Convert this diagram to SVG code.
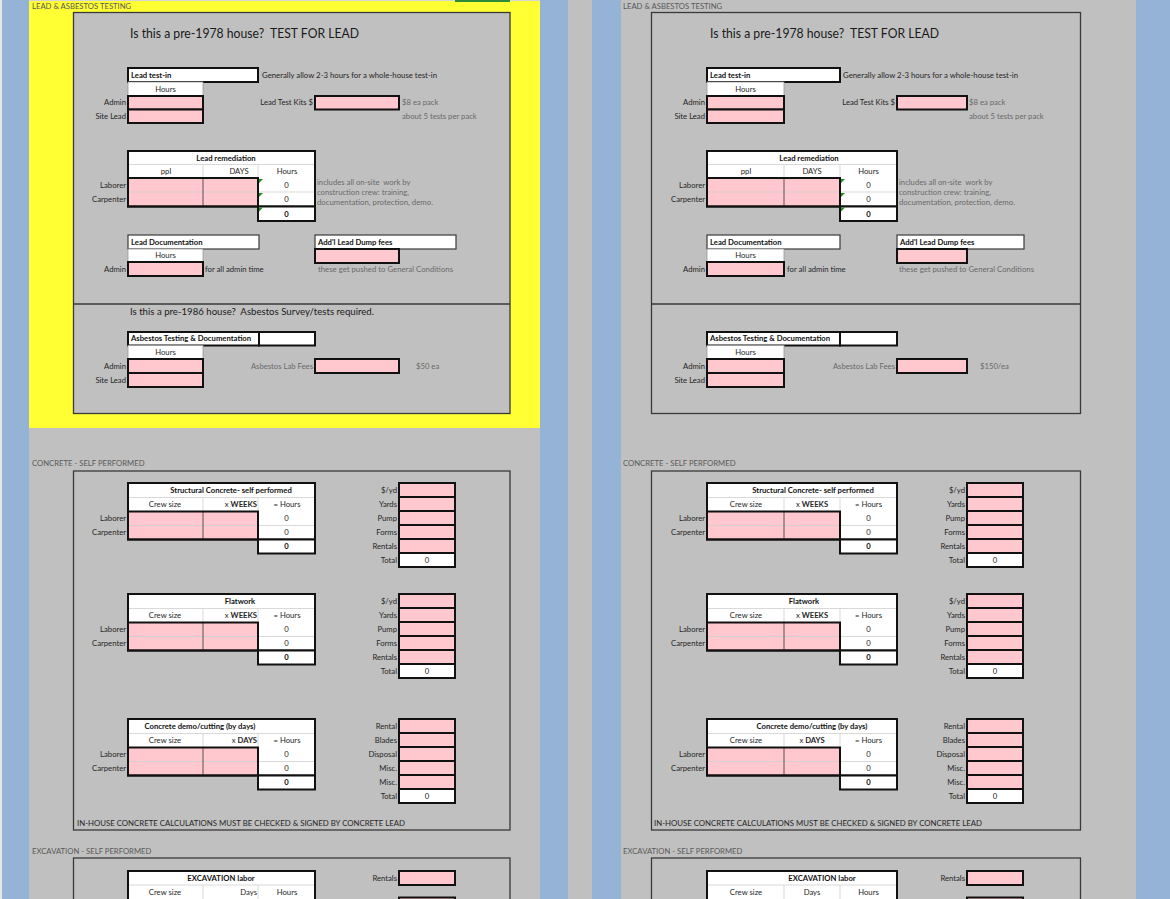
<svg xmlns="http://www.w3.org/2000/svg" width="1170" height="899" viewBox="0 0 1170 899">
<style>
.t{font-family:Lato,"Liberation Sans","DejaVu Sans",sans-serif;font-size:7.7px;fill:#262626}
.pre{white-space:pre}
.b{font-weight:bold;fill:#111}
.g{fill:#6a6a6a}
.e{text-anchor:end}
.m{text-anchor:middle}
.h{fill:#595959}
.ttl{font-size:12.5px;fill:#1a1a1a}
.sub{font-size:9.5px;fill:#1a1a1a}
.box{fill:#c0c0c0;stroke:#3a3a3a;stroke-width:1.3}
.w{fill:#fff}
.pk{fill:#ffc7ce}
.k{fill:none;stroke:#111;stroke-width:2}
.kp{fill:#ffc7ce;stroke:#111;stroke-width:2}
.kw{fill:#fff;stroke:#111;stroke-width:2}
.ln{stroke:#cfcfcf;stroke-width:0.8}
.dv{stroke:#333;stroke-width:0.8}
.cw{fill:#fff;stroke:#9a9a9a;stroke-width:0.8}
.md{fill:#fff;stroke:#3a3a3a;stroke-width:1.2}
.tri{fill:#1f8a1f}
</style>
<g id="background">
<rect x="0" y="0" width="1170" height="899" fill="#c0c0c0"/>
<rect x="0" y="0" width="2" height="899" fill="#e6e6e6"/>
<rect x="2" y="0" width="27" height="899" fill="#95b3d7"/>
<rect x="29" y="1" width="511" height="427" fill="#ffff33"/>
<rect x="29" y="0" width="511" height="1" fill="#d6d6d6"/>
<rect x="455" y="0" width="55" height="2" fill="#2e8b3a"/>
<rect x="540" y="0" width="28" height="899" fill="#95b3d7"/>
<rect x="592" y="0" width="29" height="899" fill="#95b3d7"/>
<rect x="1136" y="0" width="34" height="899" fill="#95b3d7"/>
</g>

<!-- ================= LEFT PANEL ================= -->
<g id="L-lead-section">
<text class="t h" x="32" y="8.7">LEAD &amp; ASBESTOS TESTING</text>
<rect class="box" x="73.5" y="12.5" width="436.5" height="401"/>
<line x1="73.5" y1="304" x2="510" y2="304" stroke="#3a3a3a" stroke-width="1.3"/>
<text class="t ttl pre" xml:space="preserve" x="130" y="37.5" textLength="229" lengthAdjust="spacingAndGlyphs">Is this a pre-1978 house?  TEST FOR LEAD</text>
</g>
<g id="L-lead-test-in">
<rect class="kw" x="128" y="68" width="130" height="14"/>
<text class="t b" x="131" y="77.7">Lead test-in</text>
<text class="t" x="262" y="77.7" textLength="175" lengthAdjust="spacingAndGlyphs">Generally allow 2-3 hours for a whole-house test-in</text>
<rect class="cw" x="128" y="82" width="75" height="14"/>
<text class="t m" x="165.5" y="91.7">Hours</text>
<rect class="kp" x="128" y="96" width="75" height="13.5"/>
<rect class="kp" x="128" y="109.5" width="75" height="13.5"/>
<text class="t e" x="126" y="105.4">Admin</text>
<text class="t e" x="126" y="119">Site Lead</text>
</g>
<g id="L-lead-kits">
<text class="t e" x="313" y="105.4">Lead Test Kits $</text>
<rect class="kp" x="315" y="96" width="84" height="13.5"/>
<text class="t g" x="402" y="105.4">$8 ea pack</text>
<text class="t g" x="402" y="119.2">about 5 tests per pack</text>
</g>
<g id="L-lead-remediation">
<rect class="w" x="128" y="151" width="187" height="55.5"/>
<rect class="pk" x="128" y="178" width="130" height="28.5"/>
<line class="ln" x1="128" y1="164.5" x2="315" y2="164.5"/>
<line class="ln" x1="203" y1="164.5" x2="203" y2="178"/>
<line class="ln" x1="258" y1="164.5" x2="258" y2="178"/>
<line class="ln" x1="128" y1="192" x2="315" y2="192"/>
<line class="dv" x1="203" y1="178" x2="203" y2="206.5"/>
<rect class="k" x="128" y="178" width="130" height="28.5"/>
<rect class="k" x="128" y="151" width="187" height="55.5"/>
<rect class="kw" x="258" y="206.5" width="57" height="14.5"/>
<polygon class="tri" points="259,179 263,179 259,183"/>
<polygon class="tri" points="259,193 263,193 259,197"/>
<polygon class="tri" points="259,207.5 263,207.5 259,211.5"/>
<text class="t b m" x="226" y="160.7">Lead remediation</text>
<text class="t m" x="166" y="174">ppl</text>
<text class="t m" x="239" y="174">DAYS</text>
<text class="t m" x="287" y="174">Hours</text>
<text class="t e" x="126" y="188">Laborer</text>
<text class="t e" x="126" y="202">Carpenter</text>
<text class="t m" x="286.5" y="188">0</text>
<text class="t m" x="286.5" y="202">0</text>
<text class="t b m" x="286.5" y="216.5">0</text>
<text class="t g pre" xml:space="preserve" x="317" y="185.4">includes all on-site  work by</text>
<text class="t g" x="317" y="195.4">construction crew: training,</text>
<text class="t g" x="317" y="205.4" textLength="116" lengthAdjust="spacingAndGlyphs">documentation, protection, demo.</text>
</g>
<g id="L-lead-documentation">
<rect class="md" x="128" y="235" width="131" height="14"/>
<text class="t b" x="131" y="244.7">Lead Documentation</text>
<rect class="cw" x="128" y="249" width="75" height="13"/>
<text class="t m" x="165.5" y="258.4">Hours</text>
<rect class="kp" x="128" y="262" width="75" height="14"/>
<text class="t e" x="126" y="271.7">Admin</text>
<text class="t" x="205" y="272">for all admin time</text>
</g>
<g id="L-dump-fees">
<rect class="md" x="315" y="235" width="141" height="14"/>
<text class="t b" x="318" y="244.7">Add'l Lead Dump fees</text>
<rect class="kp" x="315" y="249" width="84" height="14"/>
<text class="t g" x="318" y="272" textLength="135" lengthAdjust="spacingAndGlyphs">these get pushed to General Conditions</text>
</g>
<g id="L-asbestos">
<text class="t sub pre" xml:space="preserve" x="130" y="315.3" textLength="244" lengthAdjust="spacingAndGlyphs">Is this a pre-1986 house?  Asbestos Survey/tests required.</text>
<rect class="kw" x="128" y="332" width="131" height="13.5"/>
<rect class="kw" x="259" y="332" width="56" height="13.5"/>
<text class="t b" x="131" y="341.4">Asbestos Testing &amp; Documentation</text>
<rect class="cw" x="128" y="345.5" width="75" height="13.5"/>
<text class="t m" x="165.5" y="354.9">Hours</text>
<rect class="kp" x="128" y="359" width="75" height="14"/>
<rect class="kp" x="128" y="373" width="75" height="14"/>
<text class="t e" x="126" y="368.7">Admin</text>
<text class="t e" x="126" y="382.7">Site Lead</text>
<text class="t g e" x="313" y="368.7">Asbestos Lab Fees</text>
<rect class="kp" x="315" y="359" width="84" height="14"/>
<text class="t g" x="416" y="368.7">$50 ea</text>
</g>

<g id="L-concrete-section">
<text class="t h" x="32" y="466">CONCRETE - SELF PERFORMED</text>
<rect class="box" x="73.5" y="471" width="436.5" height="359"/>
<text class="t" x="77" y="825.6" fill="#1f1f2f" textLength="328" lengthAdjust="spacingAndGlyphs">IN-HOUSE CONCRETE CALCULATIONS MUST BE CHECKED &amp; SIGNED BY CONCRETE LEAD</text>
</g>
<g id="L-structural">
<rect class="w" x="128" y="483" width="187" height="56.5"/>
<rect class="pk" x="128" y="511.5" width="130" height="28"/>
<line class="ln" x1="128" y1="497.5" x2="315" y2="497.5"/>
<line class="ln" x1="203" y1="497.5" x2="203" y2="511.5"/>
<line class="ln" x1="258" y1="497.5" x2="258" y2="511.5"/>
<line class="ln" x1="128" y1="525.5" x2="315" y2="525.5"/>
<line class="dv" x1="203" y1="511.5" x2="203" y2="539.5"/>
<rect class="k" x="128" y="511.5" width="130" height="28"/>
<rect class="k" x="128" y="483" width="187" height="56.5"/>
<rect class="kw" x="258" y="539.5" width="57" height="14"/>
<text class="t b m" x="231" y="493">Structural Concrete- self performed</text>
<text class="t m" x="165" y="507.2">Crew size</text>
<text class="t e" x="257" y="507.2">x <tspan font-weight="bold">WEEKS</tspan></text>
<text class="t m" x="287" y="507.2">= Hours</text>
<text class="t e" x="126" y="521.2">Laborer</text>
<text class="t e" x="126" y="535.2">Carpenter</text>
<text class="t m" x="286.5" y="521.2">0</text>
<text class="t m" x="286.5" y="535.2">0</text>
<text class="t b m" x="286.5" y="549.2">0</text>
</g>
<g id="L-structural-costs">
<rect class="kp" x="399" y="483" width="56" height="14"/>
<rect class="kp" x="399" y="497" width="56" height="14"/>
<rect class="kp" x="399" y="511" width="56" height="14"/>
<rect class="kp" x="399" y="525" width="56" height="14"/>
<rect class="kp" x="399" y="539" width="56" height="14"/>
<rect class="kw" x="399" y="553" width="56" height="14"/>
<text class="t e" x="397" y="492.7">$/yd</text>
<text class="t e" x="397" y="506.7">Yards</text>
<text class="t e" x="397" y="520.7">Pump</text>
<text class="t e" x="397" y="534.7">Forms</text>
<text class="t e" x="397" y="548.7">Rentals</text>
<text class="t e" x="397" y="562.7">Total</text>
<text class="t m" x="427" y="562.7">0</text>
</g>
<g id="L-flatwork">
<rect class="w" x="128" y="594" width="187" height="56.5"/>
<rect class="pk" x="128" y="622.5" width="130" height="28"/>
<line class="ln" x1="128" y1="608.5" x2="315" y2="608.5"/>
<line class="ln" x1="203" y1="608.5" x2="203" y2="622.5"/>
<line class="ln" x1="258" y1="608.5" x2="258" y2="622.5"/>
<line class="ln" x1="128" y1="636.5" x2="315" y2="636.5"/>
<line class="dv" x1="203" y1="622.5" x2="203" y2="650.5"/>
<rect class="k" x="128" y="622.5" width="130" height="28"/>
<rect class="k" x="128" y="594" width="187" height="56.5"/>
<rect class="kw" x="258" y="650.5" width="57" height="14"/>
<text class="t b m" x="240" y="604">Flatwork</text>
<text class="t m" x="165" y="618.2">Crew size</text>
<text class="t e" x="257" y="618.2">x <tspan font-weight="bold">WEEKS</tspan></text>
<text class="t m" x="287" y="618.2">= Hours</text>
<text class="t e" x="126" y="632.2">Laborer</text>
<text class="t e" x="126" y="646.2">Carpenter</text>
<text class="t m" x="286.5" y="632.2">0</text>
<text class="t m" x="286.5" y="646.2">0</text>
<text class="t b m" x="286.5" y="660.2">0</text>
</g>
<g id="L-flatwork-costs">
<rect class="kp" x="399" y="594" width="56" height="14"/>
<rect class="kp" x="399" y="608" width="56" height="14"/>
<rect class="kp" x="399" y="622" width="56" height="14"/>
<rect class="kp" x="399" y="636" width="56" height="14"/>
<rect class="kp" x="399" y="650" width="56" height="14"/>
<rect class="kw" x="399" y="664" width="56" height="14"/>
<text class="t e" x="397" y="603.7">$/yd</text>
<text class="t e" x="397" y="617.7">Yards</text>
<text class="t e" x="397" y="631.7">Pump</text>
<text class="t e" x="397" y="645.7">Forms</text>
<text class="t e" x="397" y="659.7">Rentals</text>
<text class="t e" x="397" y="673.7">Total</text>
<text class="t m" x="427" y="673.7">0</text>
</g>
<g id="L-demo">
<rect class="w" x="128" y="719" width="187" height="56.5"/>
<rect class="pk" x="128" y="747.5" width="130" height="28"/>
<line class="ln" x1="128" y1="733.5" x2="315" y2="733.5"/>
<line class="ln" x1="203" y1="733.5" x2="203" y2="747.5"/>
<line class="ln" x1="258" y1="733.5" x2="258" y2="747.5"/>
<line class="ln" x1="128" y1="761.5" x2="315" y2="761.5"/>
<line class="dv" x1="203" y1="747.5" x2="203" y2="775.5"/>
<rect class="k" x="128" y="747.5" width="130" height="28"/>
<rect class="k" x="128" y="719" width="187" height="56.5"/>
<rect class="kw" x="258" y="775.5" width="57" height="14"/>
<text class="t b m" x="200" y="729">Concrete demo/cutting (by days)</text>
<text class="t m" x="165" y="743.2">Crew size</text>
<text class="t e" x="257" y="743.2">x <tspan font-weight="bold">DAYS</tspan></text>
<text class="t m" x="287" y="743.2">= Hours</text>
<text class="t e" x="126" y="757.2">Laborer</text>
<text class="t e" x="126" y="771.2">Carpenter</text>
<text class="t m" x="286.5" y="757.2">0</text>
<text class="t m" x="286.5" y="771.2">0</text>
<text class="t b m" x="286.5" y="785.2">0</text>
</g>
<g id="L-demo-costs">
<rect class="kp" x="399" y="719" width="56" height="14"/>
<rect class="kp" x="399" y="733" width="56" height="14"/>
<rect class="kp" x="399" y="747" width="56" height="14"/>
<rect class="kp" x="399" y="761" width="56" height="14"/>
<rect class="kp" x="399" y="775" width="56" height="14"/>
<rect class="kw" x="399" y="789" width="56" height="14"/>
<text class="t e" x="397" y="728.7">Rental</text>
<text class="t e" x="397" y="742.7">Blades</text>
<text class="t e" x="397" y="756.7">Disposal</text>
<text class="t e" x="397" y="770.7">Misc.</text>
<text class="t e" x="397" y="784.7">Misc.</text>
<text class="t e" x="397" y="798.7">Total</text>
<text class="t m" x="427" y="798.7">0</text>
</g>
<g id="L-excavation-section">
<text class="t h" x="32" y="853.7">EXCAVATION - SELF PERFORMED</text>
<rect class="box" x="73.5" y="858" width="436.5" height="60"/>
</g>
<g id="L-excavation">
<rect class="w" x="128" y="871" width="187" height="40"/>
<line class="ln" x1="128" y1="885" x2="315" y2="885"/>
<line class="ln" x1="203" y1="885" x2="203" y2="899"/>
<line class="ln" x1="258" y1="885" x2="258" y2="899"/>
<rect class="k" x="128" y="871" width="187" height="40"/>
<text class="t b m" x="221" y="880.7">EXCAVATION labor</text>
<text class="t m" x="165" y="895">Crew size</text>
<text class="t e" x="257" y="895">Days</text>
<text class="t m" x="287" y="895">Hours</text>
<rect class="kp" x="399" y="871" width="56" height="14"/>
<text class="t e" x="397" y="880.7">Rentals</text>
<rect class="kp" x="399" y="897.5" width="56" height="14"/>
</g>

<!-- ================= RIGHT PANEL ================= -->
<g id="R-lead-section">
<text class="t h" x="623" y="8.7">LEAD &amp; ASBESTOS TESTING</text>
<rect class="box" x="651.5" y="12.5" width="429" height="401"/>
<line x1="651.5" y1="304" x2="1080.5" y2="304" stroke="#3a3a3a" stroke-width="1.3"/>
<text class="t ttl pre" xml:space="preserve" x="710" y="37.5" textLength="229" lengthAdjust="spacingAndGlyphs">Is this a pre-1978 house?  TEST FOR LEAD</text>
</g>
<g id="R-lead-test-in">
<rect class="kw" x="707" y="68" width="133" height="14"/>
<text class="t b" x="710" y="77.7">Lead test-in</text>
<text class="t" x="843" y="77.7" textLength="175" lengthAdjust="spacingAndGlyphs">Generally allow 2-3 hours for a whole-house test-in</text>
<rect class="cw" x="707" y="82" width="77" height="14"/>
<text class="t m" x="745.5" y="91.7">Hours</text>
<rect class="kp" x="707" y="96" width="77" height="13.5"/>
<rect class="kp" x="707" y="109.5" width="77" height="13.5"/>
<text class="t e" x="705" y="105.4">Admin</text>
<text class="t e" x="705" y="119">Site Lead</text>
</g>
<g id="R-lead-kits">
<text class="t e" x="895" y="105.4">Lead Test Kits $</text>
<rect class="kp" x="897" y="96" width="70" height="13.5"/>
<text class="t g" x="969" y="105.4">$8 ea pack</text>
<text class="t g" x="969" y="119.2">about 5 tests per pack</text>
</g>
<g id="R-lead-remediation">
<rect class="w" x="707" y="151" width="190" height="55.5"/>
<rect class="pk" x="707" y="178" width="133" height="28.5"/>
<line class="ln" x1="707" y1="164.5" x2="897" y2="164.5"/>
<line class="ln" x1="784" y1="164.5" x2="784" y2="178"/>
<line class="ln" x1="840" y1="164.5" x2="840" y2="178"/>
<line class="ln" x1="707" y1="192" x2="897" y2="192"/>
<line class="dv" x1="784" y1="178" x2="784" y2="206.5"/>
<rect class="k" x="707" y="178" width="133" height="28.5"/>
<rect class="k" x="707" y="151" width="190" height="55.5"/>
<rect class="kw" x="840" y="206.5" width="57" height="14.5"/>
<polygon class="tri" points="841,179 845,179 841,183"/>
<polygon class="tri" points="841,193 845,193 841,197"/>
<polygon class="tri" points="841,207.5 845,207.5 841,211.5"/>
<text class="t b m" x="809" y="160.7">Lead remediation</text>
<text class="t m" x="746" y="174">ppl</text>
<text class="t m" x="812" y="174">DAYS</text>
<text class="t m" x="868.5" y="174">Hours</text>
<text class="t e" x="705" y="188">Laborer</text>
<text class="t e" x="705" y="202">Carpenter</text>
<text class="t m" x="868.5" y="188">0</text>
<text class="t m" x="868.5" y="202">0</text>
<text class="t b m" x="868.5" y="216.5">0</text>
<text class="t g pre" xml:space="preserve" x="899" y="185.4">includes all on-site  work by</text>
<text class="t g" x="899" y="195.4">construction crew: training,</text>
<text class="t g" x="899" y="205.4" textLength="116" lengthAdjust="spacingAndGlyphs">documentation, protection, demo.</text>
</g>
<g id="R-lead-documentation">
<rect class="md" x="707" y="235" width="133" height="14"/>
<text class="t b" x="710" y="244.7">Lead Documentation</text>
<rect class="cw" x="707" y="249" width="77" height="13"/>
<text class="t m" x="745.5" y="258.4">Hours</text>
<rect class="kp" x="707" y="262" width="77" height="14"/>
<text class="t e" x="705" y="271.7">Admin</text>
<text class="t" x="787" y="272">for all admin time</text>
</g>
<g id="R-dump-fees">
<rect class="md" x="897" y="235" width="127" height="14"/>
<text class="t b" x="900" y="244.7">Add'l Lead Dump fees</text>
<rect class="kp" x="897" y="249" width="70" height="14"/>
<text class="t g" x="899" y="272" textLength="135" lengthAdjust="spacingAndGlyphs">these get pushed to General Conditions</text>
</g>
<g id="R-asbestos">
<rect class="kw" x="707" y="332" width="133" height="13.5"/>
<rect class="kw" x="840" y="332" width="57" height="13.5"/>
<text class="t b" x="710" y="341.4">Asbestos Testing &amp; Documentation</text>
<rect class="cw" x="707" y="345.5" width="77" height="13.5"/>
<text class="t m" x="745.5" y="354.9">Hours</text>
<rect class="kp" x="707" y="359" width="77" height="14"/>
<rect class="kp" x="707" y="373" width="77" height="14"/>
<text class="t e" x="705" y="368.7">Admin</text>
<text class="t e" x="705" y="382.7">Site Lead</text>
<text class="t g e" x="895" y="368.7">Asbestos Lab Fees</text>
<rect class="kp" x="897" y="359" width="70" height="14"/>
<text class="t g" x="980" y="368.7">$150/ea</text>
</g>

<g id="R-concrete-section">
<text class="t h" x="623" y="466">CONCRETE - SELF PERFORMED</text>
<rect class="box" x="651.5" y="471" width="429" height="359"/>
<text class="t" x="654" y="825.6" fill="#1f1f2f" textLength="328" lengthAdjust="spacingAndGlyphs">IN-HOUSE CONCRETE CALCULATIONS MUST BE CHECKED &amp; SIGNED BY CONCRETE LEAD</text>
</g>
<g id="R-structural">
<rect class="w" x="707" y="483" width="190" height="56.5"/>
<rect class="pk" x="707" y="511.5" width="133" height="28"/>
<line class="ln" x1="707" y1="497.5" x2="897" y2="497.5"/>
<line class="ln" x1="784" y1="497.5" x2="784" y2="511.5"/>
<line class="ln" x1="840" y1="497.5" x2="840" y2="511.5"/>
<line class="ln" x1="707" y1="525.5" x2="897" y2="525.5"/>
<line class="dv" x1="784" y1="511.5" x2="784" y2="539.5"/>
<rect class="k" x="707" y="511.5" width="133" height="28"/>
<rect class="k" x="707" y="483" width="190" height="56.5"/>
<rect class="kw" x="840" y="539.5" width="57" height="14"/>
<text class="t b m" x="813" y="493">Structural Concrete- self performed</text>
<text class="t m" x="746" y="507.2">Crew size</text>
<text class="t m" x="812" y="507.2">x <tspan font-weight="bold">WEEKS</tspan></text>
<text class="t m" x="868.5" y="507.2">= Hours</text>
<text class="t e" x="705" y="521.2">Laborer</text>
<text class="t e" x="705" y="535.2">Carpenter</text>
<text class="t m" x="868.5" y="521.2">0</text>
<text class="t m" x="868.5" y="535.2">0</text>
<text class="t b m" x="868.5" y="549.2">0</text>
</g>
<g id="R-structural-costs">
<rect class="kp" x="967" y="483" width="56" height="14"/>
<rect class="kp" x="967" y="497" width="56" height="14"/>
<rect class="kp" x="967" y="511" width="56" height="14"/>
<rect class="kp" x="967" y="525" width="56" height="14"/>
<rect class="kp" x="967" y="539" width="56" height="14"/>
<rect class="kw" x="967" y="553" width="56" height="14"/>
<text class="t e" x="965" y="492.7">$/yd</text>
<text class="t e" x="965" y="506.7">Yards</text>
<text class="t e" x="965" y="520.7">Pump</text>
<text class="t e" x="965" y="534.7">Forms</text>
<text class="t e" x="965" y="548.7">Rentals</text>
<text class="t e" x="965" y="562.7">Total</text>
<text class="t m" x="995" y="562.7">0</text>
</g>
<g id="R-flatwork">
<rect class="w" x="707" y="594" width="190" height="56.5"/>
<rect class="pk" x="707" y="622.5" width="133" height="28"/>
<line class="ln" x1="707" y1="608.5" x2="897" y2="608.5"/>
<line class="ln" x1="784" y1="608.5" x2="784" y2="622.5"/>
<line class="ln" x1="840" y1="608.5" x2="840" y2="622.5"/>
<line class="ln" x1="707" y1="636.5" x2="897" y2="636.5"/>
<line class="dv" x1="784" y1="622.5" x2="784" y2="650.5"/>
<rect class="k" x="707" y="622.5" width="133" height="28"/>
<rect class="k" x="707" y="594" width="190" height="56.5"/>
<rect class="kw" x="840" y="650.5" width="57" height="14"/>
<text class="t b m" x="804" y="604">Flatwork</text>
<text class="t m" x="746" y="618.2">Crew size</text>
<text class="t m" x="812" y="618.2">x <tspan font-weight="bold">WEEKS</tspan></text>
<text class="t m" x="868.5" y="618.2">= Hours</text>
<text class="t e" x="705" y="632.2">Laborer</text>
<text class="t e" x="705" y="646.2">Carpenter</text>
<text class="t m" x="868.5" y="632.2">0</text>
<text class="t m" x="868.5" y="646.2">0</text>
<text class="t b m" x="868.5" y="660.2">0</text>
</g>
<g id="R-flatwork-costs">
<rect class="kp" x="967" y="594" width="56" height="14"/>
<rect class="kp" x="967" y="608" width="56" height="14"/>
<rect class="kp" x="967" y="622" width="56" height="14"/>
<rect class="kp" x="967" y="636" width="56" height="14"/>
<rect class="kp" x="967" y="650" width="56" height="14"/>
<rect class="kw" x="967" y="664" width="56" height="14"/>
<text class="t e" x="965" y="603.7">$/yd</text>
<text class="t e" x="965" y="617.7">Yards</text>
<text class="t e" x="965" y="631.7">Pump</text>
<text class="t e" x="965" y="645.7">Forms</text>
<text class="t e" x="965" y="659.7">Rentals</text>
<text class="t e" x="965" y="673.7">Total</text>
<text class="t m" x="995" y="673.7">0</text>
</g>
<g id="R-demo">
<rect class="w" x="707" y="719" width="190" height="56.5"/>
<rect class="pk" x="707" y="747.5" width="133" height="28"/>
<line class="ln" x1="707" y1="733.5" x2="897" y2="733.5"/>
<line class="ln" x1="784" y1="733.5" x2="784" y2="747.5"/>
<line class="ln" x1="840" y1="733.5" x2="840" y2="747.5"/>
<line class="ln" x1="707" y1="761.5" x2="897" y2="761.5"/>
<line class="dv" x1="784" y1="747.5" x2="784" y2="775.5"/>
<rect class="k" x="707" y="747.5" width="133" height="28"/>
<rect class="k" x="707" y="719" width="190" height="56.5"/>
<rect class="kw" x="840" y="775.5" width="57" height="14"/>
<text class="t b m" x="812" y="729">Concrete demo/cutting (by days)</text>
<text class="t m" x="746" y="743.2">Crew size</text>
<text class="t m" x="812" y="743.2">x <tspan font-weight="bold">DAYS</tspan></text>
<text class="t m" x="868.5" y="743.2">= Hours</text>
<text class="t e" x="705" y="757.2">Laborer</text>
<text class="t e" x="705" y="771.2">Carpenter</text>
<text class="t m" x="868.5" y="757.2">0</text>
<text class="t m" x="868.5" y="771.2">0</text>
<text class="t b m" x="868.5" y="785.2">0</text>
</g>
<g id="R-demo-costs">
<rect class="kp" x="967" y="719" width="56" height="14"/>
<rect class="kp" x="967" y="733" width="56" height="14"/>
<rect class="kp" x="967" y="747" width="56" height="14"/>
<rect class="kp" x="967" y="761" width="56" height="14"/>
<rect class="kp" x="967" y="775" width="56" height="14"/>
<rect class="kw" x="967" y="789" width="56" height="14"/>
<text class="t e" x="965" y="728.7">Rental</text>
<text class="t e" x="965" y="742.7">Blades</text>
<text class="t e" x="965" y="756.7">Disposal</text>
<text class="t e" x="965" y="770.7">Misc.</text>
<text class="t e" x="965" y="784.7">Misc.</text>
<text class="t e" x="965" y="798.7">Total</text>
<text class="t m" x="995" y="798.7">0</text>
</g>
<g id="R-excavation-section">
<text class="t h" x="623" y="853.7">EXCAVATION - SELF PERFORMED</text>
<rect class="box" x="651.5" y="858" width="429" height="60"/>
</g>
<g id="R-excavation">
<rect class="w" x="707" y="871" width="190" height="40"/>
<line class="ln" x1="707" y1="885" x2="897" y2="885"/>
<line class="ln" x1="784" y1="885" x2="784" y2="899"/>
<line class="ln" x1="840" y1="885" x2="840" y2="899"/>
<rect class="k" x="707" y="871" width="190" height="40"/>
<text class="t b m" x="822" y="880.7">EXCAVATION labor</text>
<text class="t m" x="746" y="895">Crew size</text>
<text class="t m" x="812" y="895">Days</text>
<text class="t m" x="868.5" y="895">Hours</text>
<rect class="kp" x="967" y="871" width="56" height="14"/>
<text class="t e" x="965" y="880.7">Rentals</text>
<rect class="kp" x="967" y="897.5" width="56" height="14"/>
</g>
<g id="connectors"></g>
</svg>
